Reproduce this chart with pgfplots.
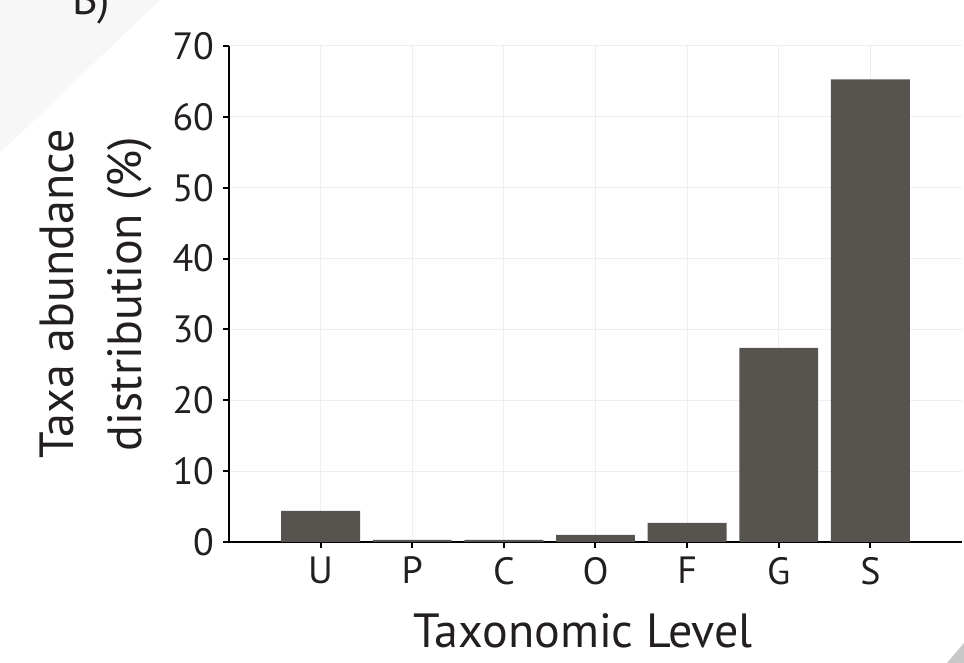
\documentclass[border=0pt]{standalone}
\usepackage{fontspec}
\setmainfont{PT Sans}
\usepackage{pgfplots}
\pgfplotsset{compat=1.18}
\definecolor{barc}{RGB}{87,83,78}
\definecolor{gridc}{RGB}{238,238,238}
\definecolor{txt}{RGB}{35,31,32}
\begin{document}
\begin{tikzpicture}
\useasboundingbox (0,0) rectangle (482pt,331.5pt);
\clip (0,0) rectangle (482pt,331.5pt);
\fill[black!3] (0,331.5pt) -- (80pt,331.5pt) -- (0,255pt) -- cycle;
\fill[black!22] (482pt,10pt) -- (482pt,0) -- (473.5pt,0) -- cycle;
\node[anchor=base west,font=\fontsize{22}{26}\selectfont,text=txt] at (32.5pt,324pt) {B)};
\begin{axis}[
  at={(114.5pt,60.5pt)}, anchor=south west,
  scale only axis, width=366.5pt, height=248pt,
  xmin=-1, xmax=7, ymin=0, ymax=70,
  axis lines=left, axis line style={-, line width=1pt, black},
  xtick={0,...,6}, xticklabels={U,P,C,O,F,G,S},
  ytick={0,10,...,70},
  tick align=outside, major tick length=3pt,
  tick style={black, line width=1pt},
  grid=major, major grid style={gridc, line width=0.5pt},
  /pgf/number format/assume math mode=true,
  ticklabel style={font=\fontsize{19}{21}\selectfont, text=txt},
  xticklabel style={yshift=-1pt},
  yticklabel style={xshift=-1pt},
  xlabel={Taxonomic Level},
  ylabel={Taxa abundance\\distribution (\%)},
  label style={font=\fontsize{24}{34}\selectfont, text=txt},
  xlabel style={at={(axis description cs:0.483,0)}, anchor=base, yshift=-53pt},
  ylabel style={at={(axis description cs:-0.1814,0.5)}, anchor=center, align=center},
]
\addplot[ybar, bar width=0.86, fill=barc, draw=none] coordinates {
  (0,4.4) (1,0.3) (2,0.3) (3,1.0) (4,2.7) (5,27.4) (6,65.3)
};
\end{axis}
\end{tikzpicture}
\end{document}
